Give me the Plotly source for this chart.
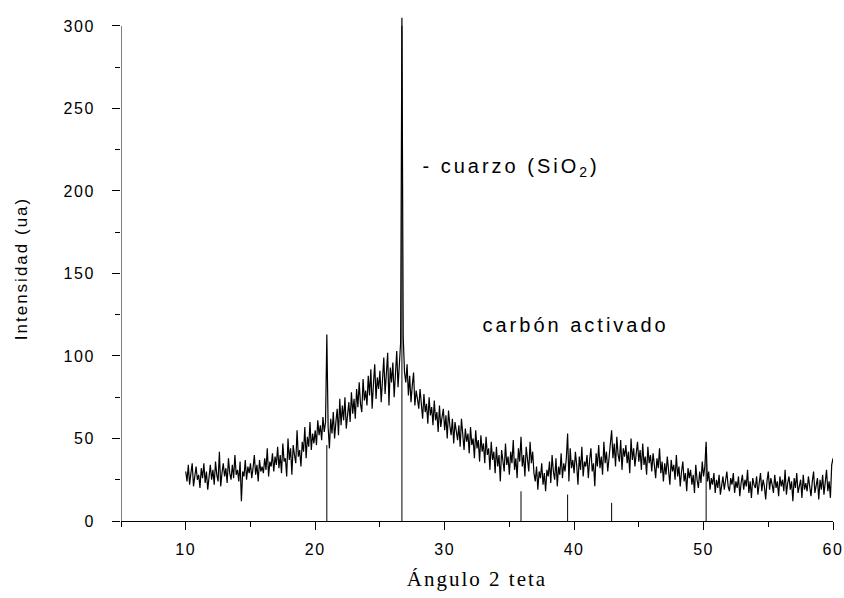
import plotly.graph_objects as go

# scan settings (2-theta, degrees)
angle_start = 10.0
angle_step = 0.1

# intensity, 0.1 deg per value
int_10_15 = [30, 24, 34, 22, 29, 35, 21, 27, 33, 25,
             28, 20, 32, 26, 35, 23, 30, 19, 27, 34,
             25, 31, 22, 36, 28, 24, 42, 21, 29, 35,
             27, 32, 23, 38, 29, 25, 34, 26, 40, 28,
             31, 24, 36, 12, 30, 27, 37, 25, 33, 29]
int_15_20 = [35, 26, 32, 40, 28, 34, 24, 37, 30, 33,
             29, 38, 31, 44, 27, 36, 33, 41, 30, 39,
             34, 45, 32, 40, 29, 47, 36, 38, 27, 50,
             37, 44, 28, 46, 40, 35, 55, 39, 43, 33,
             48, 42, 57, 38, 51, 45, 60, 43, 53, 47]
int_20_25 = [55, 46, 61, 52, 58, 49, 63, 54, 60, 113,
             57, 44, 62, 53, 66, 50, 60, 68, 52, 74,
             58, 70, 61, 75, 56, 67, 72, 60, 78, 65,
             74, 62, 80, 69, 84, 71, 66, 86, 73, 79,
             70, 88, 76, 92, 68, 83, 95, 74, 87, 80]
int_25_30 = [91, 72, 85, 99, 77, 89, 102, 70, 93, 84,
             96, 75, 88, 103, 81, 100, 108, 305, 112, 90,
             84, 95, 76, 88, 72, 82, 90, 70, 79, 74,
             68, 80, 73, 62, 77, 66, 71, 59, 75, 64,
             69, 58, 73, 61, 66, 54, 70, 57, 63, 68]
int_30_35 = [55, 64, 50, 67, 58, 52, 62, 47, 60, 54,
             49, 58, 45, 62, 51, 43, 56, 48, 53, 41,
             57, 46, 50, 38, 55, 44, 49, 36, 52, 42,
             47, 35, 51, 40, 44, 31, 48, 37, 42, 29,
             45, 33, 40, 24, 43, 36, 30, 47, 34, 39]
int_35_40 = [28, 42, 35, 49, 31, 38, 26, 44, 36, 51,
             33, 40, 27, 45, 37, 30, 48, 35, 42, 29,
             24, 33, 19, 30, 26, 35, 22, 29, 18, 31,
             27, 36, 23, 40, 30, 25, 38, 21, 33, 28,
             41, 26, 35, 30, 38, 53, 24, 44, 32, 37]
int_40_45 = [29, 42, 34, 22, 39, 31, 45, 27, 36, 33,
             40, 26, 37, 44, 30, 35, 21, 41, 33, 46,
             32, 39, 28, 48, 35, 42, 30, 37, 45, 55,
             38, 47, 33, 51, 40, 36, 49, 31, 44, 39,
             46, 35, 42, 29, 50, 37, 44, 33, 41, 48]
int_45_50 = [36, 43, 31, 47, 34, 39, 28, 45, 35, 40,
             30, 41, 34, 26, 38, 32, 44, 29, 36, 24,
             35, 28, 39, 31, 22, 37, 30, 34, 25, 40,
             27, 33, 21, 30, 36, 24, 29, 18, 32, 26,
             31, 22, 28, 17, 34, 25, 20, 30, 23, 36]
int_50_55 = [27, 33, 48, 24, 30, 19, 26, 22, 29, 17,
             25, 20, 28, 16, 23, 27, 19, 24, 30, 21,
             18, 26, 22, 29, 17, 24, 20, 27, 15, 23,
             28, 19, 25, 21, 31, 17, 24, 14, 26, 22,
             20, 27, 16, 23, 29, 18, 25, 21, 13, 24]
int_55_60 = [30, 19, 26, 22, 17, 28, 20, 24, 15, 27,
             21, 25, 18, 31, 16, 23, 27, 19, 24, 12,
             26, 20, 29, 17, 22, 25, 14, 28, 19, 23,
             18, 27, 21, 15, 24, 30, 17, 22, 26, 13,
             25, 19, 28, 16, 23, 31, 18, 24, 14, 34,
             38]

# quartz reference lines (stick pattern)
quartz_pos = [20.9, 26.7, 35.9, 39.5, 42.9, 50.2]
quartz_int = [46, 300, 18, 16, 11, 45]

intensity = (int_10_15 + int_15_20 + int_20_25 + int_25_30 + int_30_35 +
             int_35_40 + int_40_45 + int_45_50 + int_50_55 + int_55_60)
angle = [round(angle_start + angle_step * k, 1) for k in range(len(intensity))]

stick_x, stick_y = [], []
for p, h in zip(quartz_pos, quartz_int):
    stick_x += [p, p, None]
    stick_y += [0, h, None]

SANS = 'Liberation Sans, Arial, sans-serif'
SERIF = 'Liberation Serif, Times New Roman, serif'

fig = go.Figure()
fig.add_trace(go.Scatter(x=angle, y=intensity, mode='lines',
                         line=dict(color='black', width=1.2), name='carbón activado'))
fig.add_trace(go.Scatter(x=stick_x, y=stick_y, mode='lines',
                         line=dict(color='black', width=1), name='cuarzo'))

fig.update_layout(width=844, height=598,
                  margin=dict(l=121, r=11, t=16, b=77),
                  plot_bgcolor='white', paper_bgcolor='white',
                  showlegend=False,
                  font=dict(family=SANS, size=16, color='black'))

fig.update_xaxes(range=[5, 60], automargin=False,
                 showline=True, linecolor='black', linewidth=1,
                 showgrid=False, zeroline=False,
                 ticks='outside', ticklen=8, tickwidth=1, tickcolor='black',
                 tick0=0, dtick=10, ticklabelstandoff=6,
                 minor=dict(dtick=5, ticks='outside', ticklen=5, tickcolor='black', showgrid=False),
                 title=dict(text='Ángulo 2 teta', font=dict(family=SERIF, size=21), standoff=14))

fig.update_yaxes(range=[0, 306], automargin=False, showline=False,
                 showgrid=False, zeroline=False,
                 ticks='outside', ticklen=8, tickwidth=1, tickcolor='black',
                 tick0=0, dtick=50, ticklabelstandoff=14,
                 minor=dict(dtick=25, ticks='outside', ticklen=5, tickcolor='black', showgrid=False),
                 title=dict(text='Intensidad (ua)', font=dict(family=SANS, size=17), standoff=36))

# left axis line stops at 300 like the original
fig.add_shape(type='line', xref='x', yref='y', x0=5, x1=5, y0=0, y1=300,
              line=dict(color='black', width=1))

fig.add_annotation(x=29.85, y=214, xref='x', yref='y', xanchor='left', yanchor='middle',
                   text='- cuarzo (SiO<sub>2</sub>)', showarrow=False,
                   font=dict(family=SANS, size=20))
fig.add_annotation(x=34.5, y=119, xref='x', yref='y', xanchor='left', yanchor='middle',
                   text='carbón activado', showarrow=False,
                   font=dict(family=SANS, size=20))

# page without body margin, plus Origin-style wide letter spacing
spacing_js = """
document.body.style.margin = '0';
var gd = document.getElementById('{plot_id}');
gd.querySelectorAll('.xtick text, .ytick text').forEach(function(t){t.style.letterSpacing='1.5px';});
gd.querySelectorAll('.xtitle, .ytitle').forEach(function(t){t.style.letterSpacing='2px';});
gd.querySelectorAll('.annotation-text').forEach(function(t){t.style.letterSpacing='3px';});
"""

fig.write_html("out.html", post_script=spacing_js, config={'displayModeBar': False})
